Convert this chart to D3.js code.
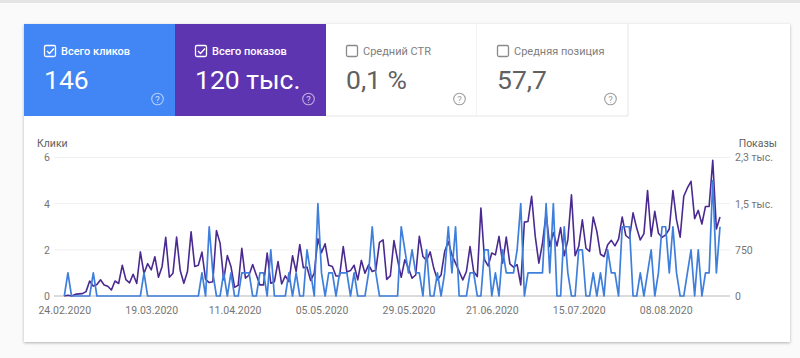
<!DOCTYPE html>
<meta charset="utf-8">
<style>
  body { margin: 0; background: #fafafa; }
  text { font-family: Roboto, sans-serif; }
</style>
<script src="https://d3js.org/d3.v7.min.js"></script>
<svg id="chart" width="800" height="358"></svg>

<script>
// daily values, 24.02.2020 onwards
var startDate = "24.02.2020";
var clicks = [0,1,0,0,0,0,0,0,1,0,0,0,0,0,0,0,0,0,0,0,0,0,1,0,
  0,0,0,0,0,0,0,0,0,0,0,0,0,0,1,0,3,1,0,0,1,0,1,0,0,1,1,1,0,0,1,1,0,2,0,0,
  0,0,1,0,1,0,0,2,1,0,4,1,0,1,1,0,1,1,1,0,1,0,0,0,1,3,1,0,0,0,0,0,0,3,2,1,
  2,1,1,0,2,0,0,1,0,1,3,1,3,0,0,0,1,1,0,0,2,2,0,1,0,2,1,1,1,2,4,0,1,1,1,1,
  1,4,1,4,0,0,3,1,0,0,2,2,0,0,1,0,1,0,2,1,1,0,3,3,3,0,0,1,0,1,2,0,1,3,3,1,
  3,1,0,0,1,2,0,2,0,1,1,5,1,3];
var impressions = [0,11,0,26,34,38,71,244,161,188,263,180,158,98,244,203,499,266,214,353,203,716,364,525,
  424,638,304,480,953,304,371,956,413,206,398,1043,480,499,713,270,218,233,1065,859,263,656,480,143,173,773,
  289,341,510,341,180,180,698,206,233,559,195,326,233,653,398,836,458,469,251,371,930,705,848,499,480,326,326,
  803,390,413,499,263,578,371,506,398,424,870,911,270,326,900,589,304,589,450,289,341,968,641,578,716,450,263,
  341,724,885,668,533,398,263,398,803,398,315,1429,589,488,698,668,968,533,956,521,469,510,180,1200,1211,1620,
  968,533,859,1339,803,1031,814,1110,653,911,1646,656,803,1238,776,724,1283,1050,679,641,833,904,814,923,1283,
  983,934,1350,1103,911,1013,1714,968,1376,1020,953,994,1088,1714,1238,956,1620,1755,1864,1256,1391,1170,1455,1455,
  2205,1088,1283];

var dateTicks = ["24.02.2020","19.03.2020","11.04.2020","05.05.2020","29.05.2020","21.06.2020","15.07.2020","08.08.2020"];
var clickTicks = [0,2,4,6];
var impressionTicks = [0,750,1500,2250];
var impressionLabels = ["0","750","1,5 тыс.","2,3 тыс."];

var tileNames = ["Всего кликов","Всего показов","Средний CTR","Средняя позиция"];
var tileValues = ["146","120 тыс.","0,1 %","57,7"];
var tileFills = ["#4285f4","#5e35b1","#ffffff","#ffffff"];
var tileChecked = [true,true,false,false];

var svg = d3.select("#chart");
var parseDate = d3.timeParse("%d.%m.%Y"),
    formatDate = d3.timeFormat("%d.%m.%Y");
var day0 = parseDate(startDate);

// the card
var defs = svg.append("defs");
var blur = defs.append("filter").attr("id","shadow")
  .attr("x","-5%").attr("y","-5%").attr("width","110%").attr("height","110%");
blur.append("feDropShadow").attr("dx",0).attr("dy",1).attr("stdDeviation",1.5)
  .attr("flood-color","#000").attr("flood-opacity",.3);

svg.append("rect").attr("x",0).attr("y",0).attr("width",800).attr("height",3).attr("fill","#e4e4e4");
svg.append("rect").attr("x",24).attr("y",24).attr("width",766).attr("height",318)
  .attr("fill","#fff").attr("filter","url(#shadow)");

// tiles
var tileW = 151, tileH = 92;
var tiles = svg.selectAll(".tile").data(tileNames).enter().append("g")
  .attr("class","tile")
  .attr("transform", function(d,i){ return "translate(" + (24 + i*tileW) + ",24)" });

tiles.append("rect")
  .attr("width",tileW).attr("height",tileH)
  .attr("fill", function(d,i){ return tileFills[i] });

// thin borders on the two white tiles
tiles.filter(function(d,i){ return !tileChecked[i] }).append("path")
  .attr("d","M0,"+tileH+"H"+tileW+"V0")
  .attr("fill","none").attr("stroke","#e6e6e6");

tiles.append("rect")
  .attr("x",20.5).attr("y",21.5).attr("width",11).attr("height",11).attr("rx",1.5)
  .attr("fill","none").attr("stroke-width",1.3)
  .attr("stroke", function(d,i){ return tileChecked[i] ? "#fff" : "#8a8a8a" });

tiles.filter(function(d,i){ return tileChecked[i] }).append("path")
  .attr("d","M23,27l2.5,2.5l4.5,-5")
  .attr("fill","none").attr("stroke","#fff").attr("stroke-width",1.3);

tiles.append("text")
  .attr("x",37).attr("y",30.5)
  .attr("font-size",11)
  .attr("font-weight", function(d,i){ return tileChecked[i] ? 500 : 400 })
  .attr("fill", function(d,i){ return tileChecked[i] ? "#fff" : "#808080" })
  .text(function(d){ return d });

tiles.append("text")
  .attr("x",20).attr("y",65)
  .attr("font-size",26.5)
  .attr("fill", function(d,i){ return tileChecked[i] ? "#fff" : "#616161" })
  .text(function(d,i){ return tileValues[i] });

tiles.append("circle")
  .attr("cx",133.5).attr("cy",75).attr("r",5.8)
  .attr("fill","none").attr("stroke-width",1.1)
  .attr("stroke", function(d,i){ return tileChecked[i] ? "rgba(255,255,255,.6)" : "#9e9e9e" });

tiles.append("text")
  .attr("x",133.5).attr("y",78.5)
  .attr("text-anchor","middle").attr("font-size",9.5)
  .attr("fill", function(d,i){ return tileChecked[i] ? "rgba(255,255,255,.75)" : "#9e9e9e" })
  .text("?");

// scales
var x = d3.scaleTime()
  .domain([day0, d3.timeDay.offset(day0, clicks.length - 1)])
  .range([64.3, 720]);
var yClicks = d3.scaleLinear().domain([0,6]).range([296,157.5]);
var yImpr = d3.scaleLinear().domain([0,2250]).range([296,157.5]);

// grid + left axis
var leftAxis = svg.append("g")
  .attr("transform","translate(54,0)")
  .call(d3.axisLeft(yClicks).tickValues(clickTicks).tickSize(0).tickPadding(4).tickFormat(d3.format("d")));
leftAxis.select(".domain").remove();
leftAxis.selectAll("text").attr("font-size",10.5).attr("font-family","Roboto, sans-serif").attr("fill","#757575");

svg.append("g").selectAll("line").data(clickTicks).enter().append("line")
  .attr("x1",54).attr("x2",730)
  .attr("y1", function(d){ return yClicks(d) })
  .attr("y2", function(d){ return yClicks(d) })
  .attr("stroke", function(d){ return d==0 ? "#cfcfcf" : "#f0f0f0" })
  .attr("stroke-width", function(d){ return d==0 ? 1.5 : 1 });

// right axis
var rightAxis = svg.append("g")
  .attr("transform","translate(730,0)")
  .call(d3.axisRight(yImpr).tickValues(impressionTicks).tickSize(0).tickPadding(5)
    .tickFormat(function(d,i){ return impressionLabels[i] }));
rightAxis.select(".domain").remove();
rightAxis.selectAll("text").attr("font-size",10.5).attr("font-family","Roboto, sans-serif").attr("fill","#757575");

// bottom axis
var bottomAxis = svg.append("g")
  .attr("transform","translate(0,296)")
  .call(d3.axisBottom(x).tickValues(dateTicks.map(parseDate)).tickSize(0).tickPadding(11)
    .tickFormat(formatDate));
bottomAxis.select(".domain").remove();
bottomAxis.selectAll("text").attr("font-size",10.5).attr("font-family","Roboto, sans-serif").attr("fill","#757575");

// axis titles
svg.append("text").attr("x",37).attr("y",147).attr("font-size",10.5).attr("fill","#616161").text("Клики");
svg.append("text").attr("x",777).attr("y",147).attr("font-size",10.5).attr("text-anchor","end").attr("fill","#616161").text("Показы");

// lines
var clickLine = d3.line()
  .x(function(d,i){ return x(d3.timeDay.offset(day0,i)) })
  .y(function(d){ return yClicks(d) });
var imprLine = d3.line()
  .x(function(d,i){ return x(d3.timeDay.offset(day0,i)) })
  .y(function(d){ return yImpr(d) });

svg.append("path").datum(impressions)
  .attr("d",imprLine)
  .attr("fill","none").attr("stroke","#4a2a91").attr("stroke-width",1.6).attr("stroke-linejoin","round");

svg.append("path").datum(clicks)
  .attr("d",clickLine)
  .attr("fill","none").attr("stroke","#3f7fdc").attr("stroke-width",1.7).attr("stroke-linejoin","round");
</script>
